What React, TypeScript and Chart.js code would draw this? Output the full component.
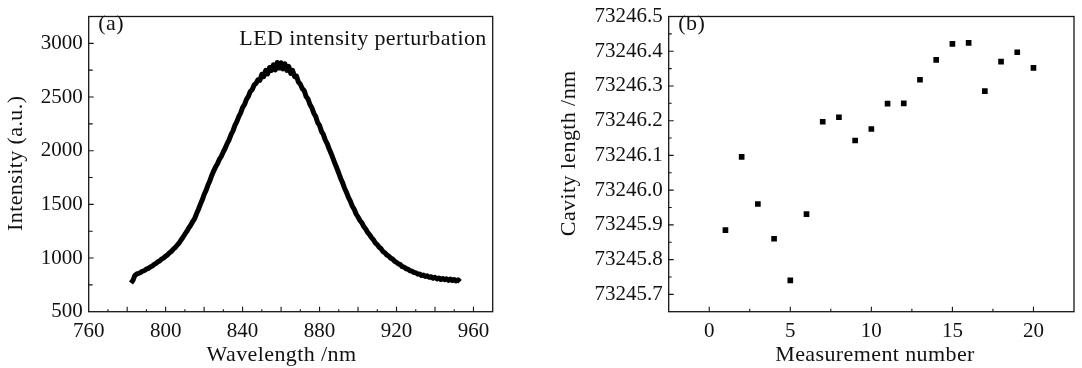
import { useEffect, useRef } from "react";
import { Chart, registerables } from "chart.js";

Chart.register(...registerables);

// ---------- Panel (a): LED spectrum ----------
const wavelengthNm = [
  782, 783, 784, 785, 786, 787, 788, 789, 790, 791,
  792, 793, 794, 795, 796, 797, 798, 799, 800, 801,
  802, 803, 804, 805, 806, 807, 808, 809, 810, 811,
  812, 813, 814, 815, 816, 817, 818, 819, 820, 821,
  822, 823, 824, 825, 826, 827, 828, 829, 830, 831,
  832, 833, 834, 835, 836, 837, 838, 839, 840, 841,
  842, 843, 844, 845, 846, 847, 848, 849, 850, 851,
  852, 853, 854, 855, 856, 857, 858, 859, 860, 861,
  862, 863, 864, 865, 866, 867, 868, 869, 870, 871,
  872, 873, 874, 875, 876, 877, 878, 879, 880, 881,
  882, 883, 884, 885, 886, 887, 888, 889, 890, 891,
  892, 893, 894, 895, 896, 897, 898, 899, 900, 901,
  902, 903, 904, 905, 906, 907, 908, 909, 910, 911,
  912, 913, 914, 915, 916, 917, 918, 919, 920, 921,
  922, 923, 924, 925, 926, 927, 928, 929, 930, 931,
  932, 933, 934, 935, 936, 937, 938, 939, 940, 941,
  942, 943, 944, 945, 946, 947, 948, 949, 950, 951,
  952, 953,
];
const intensityAU = [
  768, 792, 838, 852, 858, 866, 877, 884, 896, 903,
  917, 925, 941, 950, 965, 975, 992, 1001, 1018, 1030,
  1049, 1062, 1083, 1098, 1120, 1140, 1168, 1193, 1222, 1248,
  1280, 1305, 1338, 1365, 1410, 1452, 1498, 1540, 1592, 1630,
  1680, 1720, 1772, 1812, 1850, 1880, 1922, 1950, 1990, 2025,
  2068, 2102, 2150, 2185, 2235, 2270, 2318, 2352, 2402, 2430,
  2478, 2505, 2552, 2570, 2612, 2628, 2660, 2655, 2712, 2690,
  2748, 2715, 2775, 2748, 2800, 2752, 2822, 2770, 2818, 2762,
  2808, 2748, 2785, 2720, 2748, 2690, 2695, 2640, 2620, 2578,
  2560, 2505, 2482, 2430, 2400, 2350, 2318, 2262, 2235, 2180,
  2150, 2098, 2065, 2015, 1975, 1928, 1880, 1836, 1790, 1740,
  1700, 1650, 1612, 1565, 1530, 1485, 1455, 1410, 1382, 1350,
  1328, 1292, 1270, 1238, 1218, 1190, 1170, 1140, 1125, 1100,
  1086, 1060, 1049, 1028, 1018, 998, 990, 970, 960, 945,
  938, 920, 915, 900, 896, 882, 878, 865, 864, 850,
  852, 838, 841, 828, 834, 820, 826, 812, 820, 806,
  814, 800, 810, 798, 806, 792, 804, 790, 800, 786,
  798, 780,
];
const xTickLabelsA = [760, 800, 840, 880, 920, 960];
const yTickLabelsA = [500, 1000, 1500, 2000, 2500, 3000];
const xMajorMarksA = [780, 800, 820, 840, 860, 880, 900, 920, 940, 960];
const xMinorMarksA = [770, 790, 810, 830, 850, 870, 890, 910, 930, 950];
const yMajorMarksA = [1000, 1500, 2000, 2500, 3000];
const yMinorMarksA = [750, 1250, 1750, 2250, 2750];

// ---------- Panel (b): cavity length ----------
const measurementNumber = [1, 2, 3, 4, 5, 6, 7, 8, 9, 10, 11, 12, 13, 14, 15, 16, 17, 18, 19, 20];
const cavityLengthNm = [
  73245.885, 73246.096, 73245.96, 73245.86, 73245.74,
  73245.931, 73246.197, 73246.21, 73246.143, 73246.176,
  73246.249, 73246.25, 73246.318, 73246.375, 73246.421,
  73246.424, 73246.285, 73246.37, 73246.397, 73246.352,
];
const xTickLabelsB = [0, 5, 10, 15, 20];
const yTickLabelsB = [73245.7, 73245.8, 73245.9, 73246.0, 73246.1, 73246.2, 73246.3, 73246.4, 73246.5];
const xMajorMarksB = [0, 5, 10, 15, 20];
const xMinorMarksB = [2.5, 7.5, 12.5, 17.5];
const yMajorMarksB = [73245.7, 73245.8, 73245.9, 73246.0, 73246.1, 73246.2, 73246.3, 73246.4];
const yMinorMarksB = [73245.75, 73245.85, 73245.95, 73246.05, 73246.15, 73246.25, 73246.35, 73246.45];

const SERIF = '"Liberation Serif", "Times New Roman", serif';
const INK = "#111111";

type TextSpec = { text: string; x: number; y: number; align: CanvasTextAlign; rotate?: boolean };
type DecorCfg = {
  xMajor: number[];
  xMinor: number[];
  yMajor: number[];
  yMinor: number[];
  majorLen: number;
  minorLen: number;
  yMinorLen: number;
  texts: TextSpec[];
};

function decorPlugin(cfg: DecorCfg) {
  return {
    id: "decor",
    afterDraw(chart: any) {
      const { ctx, chartArea: a, scales } = chart;
      const xs = scales.x;
      const ys = scales.y;
      ctx.save();
      ctx.strokeStyle = "#151515";
      ctx.lineWidth = 1.3;
      ctx.strokeRect(a.left, a.top, a.right - a.left, a.bottom - a.top);
      ctx.lineWidth = 1.1;
      ctx.beginPath();
      for (const v of cfg.xMajor) {
        const p = xs.getPixelForValue(v);
        ctx.moveTo(p, a.bottom);
        ctx.lineTo(p, a.bottom - cfg.majorLen);
      }
      for (const v of cfg.xMinor) {
        const p = xs.getPixelForValue(v);
        ctx.moveTo(p, a.bottom);
        ctx.lineTo(p, a.bottom - cfg.minorLen);
      }
      for (const v of cfg.yMajor) {
        const p = ys.getPixelForValue(v);
        ctx.moveTo(a.left, p);
        ctx.lineTo(a.left + cfg.majorLen, p);
      }
      for (const v of cfg.yMinor) {
        const p = ys.getPixelForValue(v);
        ctx.moveTo(a.left, p);
        ctx.lineTo(a.left + cfg.yMinorLen, p);
      }
      ctx.stroke();

      ctx.fillStyle = INK;
      ctx.font = `22px ${SERIF}`;
      try {
        (ctx as any).letterSpacing = "0.4px";
      } catch (e) {}
      ctx.textBaseline = "alphabetic";
      for (const t of cfg.texts) {
        ctx.textAlign = t.align;
        if (t.rotate) {
          ctx.save();
          ctx.translate(t.x, t.y);
          ctx.rotate(-Math.PI / 2);
          ctx.fillText(t.text, 0, 0);
          ctx.restore();
        } else {
          ctx.fillText(t.text, t.x, t.y);
        }
      }
      ctx.restore();
    },
  };
}

function axisCommon(labels: number[], fmt: (v: number) => string, padding: number) {
  return {
    type: "linear" as const,
    grid: { display: false, drawTicks: false },
    border: { display: false },
    afterBuildTicks: (scale: any) => {
      scale.ticks = labels.map((v) => ({ value: v }));
    },
    ticks: {
      autoSkip: false,
      maxRotation: 0,
      padding,
      color: INK,
      font: { family: SERIF, size: 21, lineHeight: 1 },
      callback: (v: any) => fmt(Number(v)),
    },
  };
}

function PanelA() {
  const ref = useRef<HTMLCanvasElement | null>(null);
  useEffect(() => {
    if (!ref.current) return;
    const chart = new Chart(ref.current, {
      type: "line",
      data: {
        datasets: [
          {
            data: wavelengthNm.map((w, i) => ({ x: w, y: intensityAU[i] })),
            borderColor: "#000000",
            borderWidth: 5,
            borderJoinStyle: "round",
            borderCapStyle: "butt",
            pointRadius: 0,
            tension: 0,
            fill: false,
          },
        ],
      },
      options: {
        responsive: false,
        animation: false,
        events: [],
        layout: { padding: { left: 0, right: 48.3, top: 12.7, bottom: 0 } },
        plugins: { legend: { display: false }, tooltip: { enabled: false } },
        scales: {
          x: {
            ...axisCommon(xTickLabelsA, (v) => String(v), 9),
            min: 760,
            max: 970,
            afterFit: (s: any) => {
              s.height = 56.3;
            },
          },
          y: {
            ...axisCommon(yTickLabelsA, (v) => String(v), 6),
            min: 500,
            max: 3250,
            afterFit: (s: any) => {
              s.width = 88.7;
            },
          },
        },
      },
      plugins: [
        decorPlugin({
          xMajor: xMajorMarksA,
          xMinor: xMinorMarksA,
          yMajor: yMajorMarksA,
          yMinor: yMinorMarksA,
          majorLen: 5,
          minorLen: 2.5,
          yMinorLen: 4,
          texts: [
            { text: "(a)", x: 98.3, y: 29.5, align: "left" },
            { text: "LED intensity perturbation", x: 239.3, y: 44.5, align: "left" },
            { text: "Wavelength /nm", x: 281.5, y: 361, align: "center" },
            { text: "Intensity (a.u.)", x: 22, y: 163.3, align: "center", rotate: true },
          ],
        }),
      ],
    } as any);
    return () => chart.destroy();
  }, []);
  return (
    <canvas
      ref={ref}
      width={541}
      height={368}
      style={{ position: "absolute", left: 0, top: 0, width: 541, height: 368, display: "block" }}
    />
  );
}

function PanelB() {
  const ref = useRef<HTMLCanvasElement | null>(null);
  useEffect(() => {
    if (!ref.current) return;
    const chart = new Chart(ref.current, {
      type: "scatter",
      data: {
        datasets: [
          {
            data: measurementNumber.map((n, i) => ({ x: n, y: cavityLengthNm[i] })),
            pointStyle: "rect",
            pointRadius: 4,
            borderWidth: 0,
            backgroundColor: "#000000",
            borderColor: "#000000",
          },
        ],
      },
      options: {
        responsive: false,
        animation: false,
        events: [],
        layout: { padding: { left: 0, right: 8, top: 12, bottom: 0 } },
        plugins: { legend: { display: false }, tooltip: { enabled: false } },
        scales: {
          x: {
            ...axisCommon(xTickLabelsB, (v) => String(v), 9),
            min: -2.5,
            max: 22.5,
            afterFit: (s: any) => {
              s.height = 56.3;
            },
          },
          y: {
            ...axisCommon(yTickLabelsB, (v) => v.toFixed(1), 6),
            min: 73245.65,
            max: 73246.5,
            afterFit: (s: any) => {
              s.width = 127.7;
            },
          },
        },
      },
      plugins: [
        decorPlugin({
          xMajor: xMajorMarksB,
          xMinor: xMinorMarksB,
          yMajor: yMajorMarksB,
          yMinor: yMinorMarksB,
          majorLen: 5,
          minorLen: 3,
          yMinorLen: 3,
          texts: [
            { text: "(b)", x: 137.3, y: 29.5, align: "left" },
            { text: "Measurement number", x: 334, y: 361, align: "center" },
            { text: "Cavity length /nm", x: 34, y: 153.3, align: "center", rotate: true },
          ],
        }),
      ],
    } as any);
    return () => chart.destroy();
  }, []);
  return (
    <canvas
      ref={ref}
      width={541}
      height={368}
      style={{ position: "absolute", left: 541, top: 0, width: 541, height: 368, display: "block" }}
    />
  );
}

export default function App() {
  return (
    <div
      style={{
        position: "fixed",
        left: 0,
        top: 0,
        width: 1082,
        height: 368,
        background: "#ffffff",
        overflow: "hidden",
      }}
    >
      <PanelA />
      <PanelB />
    </div>
  );
}
